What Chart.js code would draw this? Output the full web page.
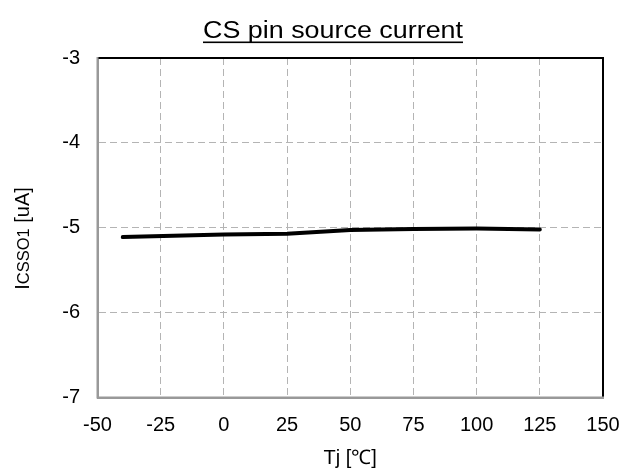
<!DOCTYPE html>
<html>
<head>
<meta charset="utf-8">
<script src="https://cdn.jsdelivr.net/npm/chart.js@4.4.1/dist/chart.umd.min.js"></script>
<style>
  html, body { margin: 0; padding: 0; background: #ffffff; }
  #wrap { width: 626px; height: 470px; }
</style>
</head>
<body>
<div id="wrap"><canvas id="c" width="626" height="470"></canvas></div>
<script>
// ---- data ----
const chartTitle = "CS pin source current";
const xAxisTitle = "Tj [℃]";
const yAxisTitleParts = ["I", "CSSO1", " [uA]"];
const temps = [-40, 0, 25, 50, 75, 100, 125];
const current = [-5.11, -5.08, -5.07, -5.027, -5.015, -5.01, -5.02];
const xTickValues = [-50, -25, 0, 25, 50, 75, 100, 125, 150];
const yTickValues = [-7, -6, -5, -4, -3];

const FONT = "'Liberation Sans', Arial, Helvetica, sans-serif";

const decorPlugin = {
  id: 'decor',
  afterDraw(chart) {
    const ctx = chart.ctx;
    const a = chart.chartArea;
    ctx.save();
    // top and right black frame
    ctx.strokeStyle = '#000000';
    ctx.lineWidth = 2;
    ctx.beginPath();
    ctx.moveTo(a.left, a.top);
    ctx.lineTo(a.right, a.top);
    ctx.lineTo(a.right, a.bottom);
    ctx.stroke();
    // gray left/bottom frame
    ctx.strokeStyle = '#999999';
    ctx.beginPath();
    ctx.moveTo(a.left, a.top - 1);
    ctx.lineTo(a.left, a.bottom);
    ctx.lineTo(a.right + 1, a.bottom);
    ctx.stroke();

    // title (underlined)
    ctx.fillStyle = '#000000';
    ctx.font = "23px " + FONT;
    ctx.textAlign = 'center';
    ctx.textBaseline = 'alphabetic';
    const tw = ctx.measureText(chartTitle).width;
    const targetW = 260;
    const sx = targetW / tw;
    const cx = 333;
    ctx.save();
    ctx.translate(cx, 38);
    ctx.scale(sx, 1);
    ctx.fillText(chartTitle, 0, 0);
    ctx.restore();
    ctx.fillRect(cx - targetW / 2, 41.5, targetW, 1.6);

    // y-axis title with small-caps subscript part
    ctx.save();
    ctx.translate(28.5, 238.5);
    ctx.rotate(-Math.PI / 2);
    ctx.textAlign = 'left';
    ctx.textBaseline = 'alphabetic';
    const fonts = ["20px " + FONT, "16.5px " + FONT, "20px " + FONT];
    let total = 0;
    const widths = yAxisTitleParts.map((t, i) => { ctx.font = fonts[i]; const w = ctx.measureText(t).width; total += w; return w; });
    let x = -total / 2;
    yAxisTitleParts.forEach((t, i) => { ctx.font = fonts[i]; ctx.fillText(t, x, 0); x += widths[i]; });
    ctx.restore();
    ctx.restore();
  }
};

new Chart(document.getElementById('c'), {
  type: 'scatter',
  data: {
    datasets: [{
      data: temps.map((t, i) => ({ x: t, y: current[i] })),
      showLine: true,
      borderColor: '#000000',
      borderWidth: 4,
      borderCapStyle: 'round',
      borderJoinStyle: 'round',
      pointRadius: 0,
      tension: 0,
      fill: false
    }]
  },
  options: {
    responsive: false,
    animation: false,
    devicePixelRatio: 1,
    layout: { padding: { left: 0, right: 23, top: 58, bottom: 0 } },
    plugins: { legend: { display: false }, title: { display: false }, tooltip: { enabled: false } },
    scales: {
      x: {
        type: 'linear',
        min: -50, max: 150,
        afterBuildTicks: s => { s.ticks = xTickValues.map(v => ({ value: v })); },
        afterFit: s => { s.height = 72.5; s.paddingLeft = 0; s.paddingRight = 0; },
        grid: { color: '#b4b4b4', lineWidth: 1, drawTicks: false },
        border: { display: true, color: '#999999', width: 2, dash: [7, 4] },
        ticks: { color: '#000000', font: { family: FONT, size: 20 }, padding: 16, maxRotation: 0, autoSkip: false },
        title: { display: true, text: xAxisTitle, color: '#000000', font: { family: FONT, size: 20 }, padding: 0 }
      },
      y: {
        type: 'linear',
        min: -7, max: -3,
        afterBuildTicks: s => { s.ticks = yTickValues.map(v => ({ value: v })); },
        afterFit: s => { s.width = 97.5; s.paddingTop = 0; s.paddingBottom = 0; },
        grid: { color: '#b4b4b4', lineWidth: 1, drawTicks: false },
        border: { display: true, color: '#999999', width: 2, dash: [7, 4] },
        ticks: { color: '#000000', font: { family: FONT, size: 20 }, padding: 17.5, autoSkip: false }
      }
    }
  },
  plugins: [decorPlugin]
});
</script>
</body>
</html>
